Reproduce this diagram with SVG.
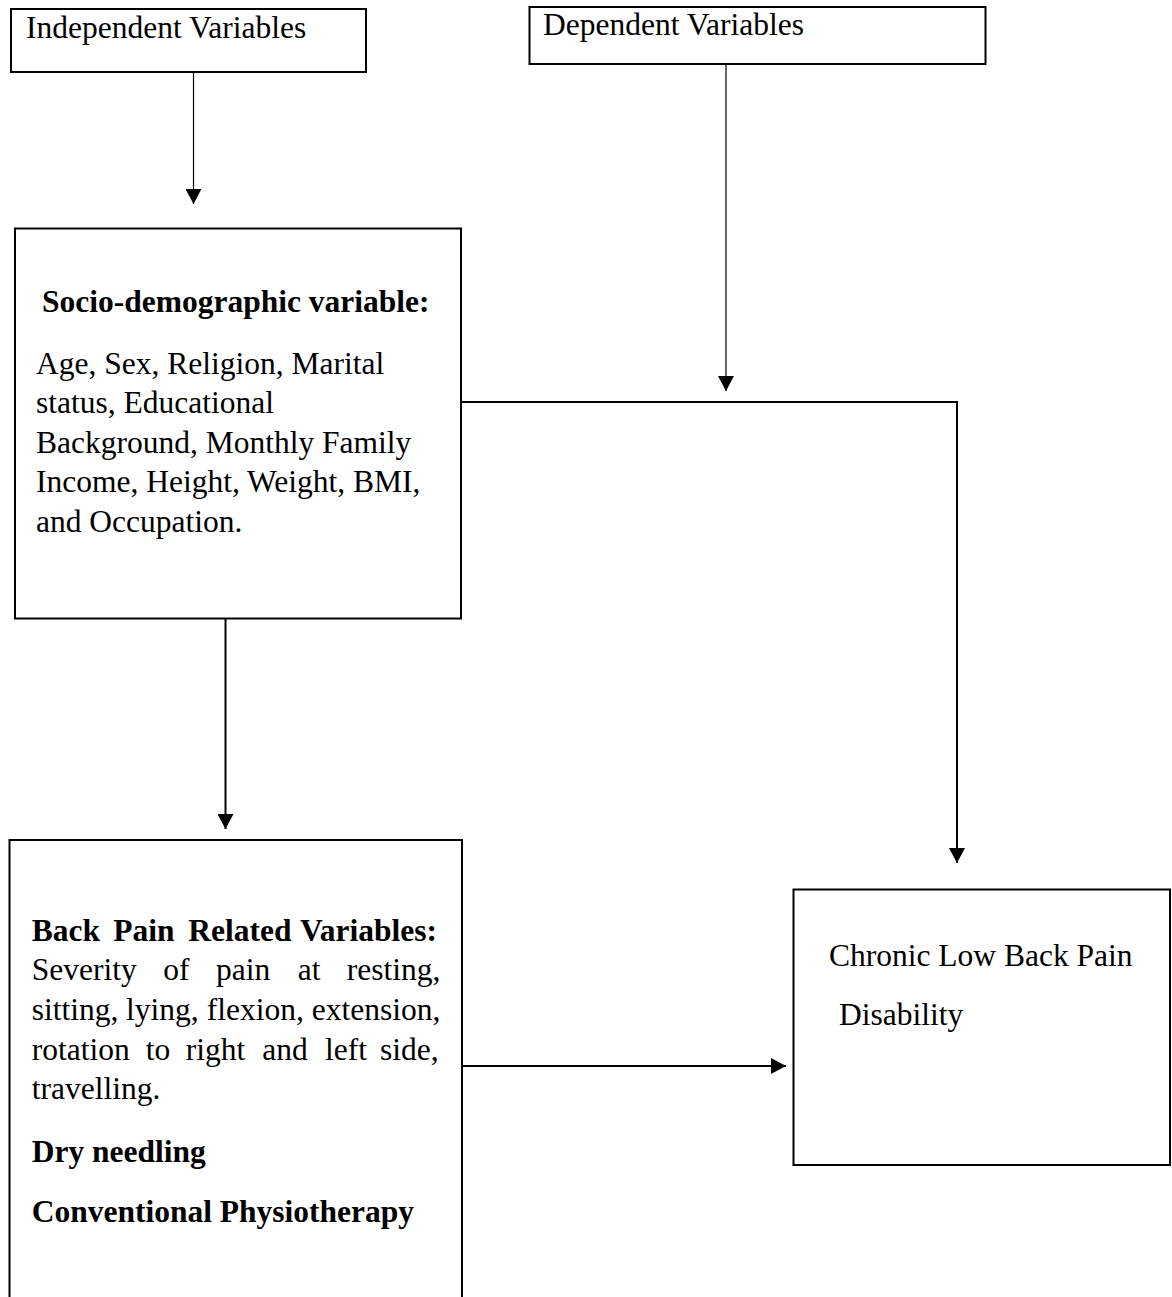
<svg xmlns="http://www.w3.org/2000/svg" width="1172" height="1297" viewBox="0 0 1172 1297">
<style>
.box{fill:#fff;stroke:#000;stroke-width:2}
.t{font-family:"Liberation Serif","Times New Roman",serif;font-size:31.5px;fill:#000}
.b{font-weight:bold}
.c1{fill:none;stroke:#000;stroke-width:1.2}
.c2{fill:none;stroke:#000;stroke-width:2}
</style>
<defs>
<marker id="arr" markerUnits="userSpaceOnUse" markerWidth="16" markerHeight="16" refX="15" refY="8" orient="auto">
<path d="M0,0 L15,8 L0,16 z" fill="#000"/>
</marker>
</defs>
<rect width="1172" height="1297" fill="#fff"/>
<g id="connectors">
<line class="c1" x1="193.5" y1="72" x2="193.5" y2="204" marker-end="url(#arr)"/>
<line class="c1" x1="726" y1="64" x2="726" y2="391" marker-end="url(#arr)"/>
<polyline class="c2" points="461,402 957,402 957,863" marker-end="url(#arr)"/>
<line class="c2" x1="225.5" y1="618" x2="225.5" y2="829" marker-end="url(#arr)"/>
<line class="c2" x1="461" y1="1066" x2="786" y2="1066" marker-end="url(#arr)"/>
</g>
<g id="independent">
<rect class="box" x="11" y="9" width="355" height="63"/>
<text class="t" x="26" y="38">Independent Variables</text>
</g>
<g id="dependent">
<rect class="box" x="529.5" y="7" width="456" height="57"/>
<text class="t" x="543" y="35">Dependent Variables</text>
</g>
<g id="socio">
<rect class="box" x="15" y="228.5" width="446" height="390"/>
<text class="t b" x="42" y="312">Socio-demographic variable:</text>
<text class="t" x="36" y="373.5">Age, Sex, Religion, Marital</text>
<text class="t" x="36" y="413">status, Educational</text>
<text class="t" x="36" y="452.5">Background, Monthly Family</text>
<text class="t" x="36" y="492">Income, Height, Weight, BMI,</text>
<text class="t" x="36" y="532">and Occupation.</text>
</g>
<g id="backpain">
<rect class="box" x="9.5" y="840" width="452.5" height="480"/>
<text class="t b" y="941"><tspan x="31.7">Back</tspan><tspan x="113.3">Pain</tspan><tspan x="188.3">Related</tspan><tspan x="300">Variables:</tspan></text>
<text class="t" y="980"><tspan x="31.7">Severity</tspan><tspan x="163.3">of</tspan><tspan x="216">pain</tspan><tspan x="297.7">at</tspan><tspan x="346.7">resting,</tspan></text>
<text class="t" y="1020"><tspan x="31.7">sitting,</tspan><tspan x="126">lying,</tspan><tspan x="206.7">flexion,</tspan><tspan x="311.7">extension,</tspan></text>
<text class="t" y="1059.5"><tspan x="31.7">rotation</tspan><tspan x="145.7">to</tspan><tspan x="185.7">right</tspan><tspan x="262.3">and</tspan><tspan x="325">left</tspan><tspan x="380">side,</tspan></text>
<text class="t" x="31.7" y="1098.5">travelling.</text>
<text class="t b" x="31.7" y="1162">Dry needling</text>
<text class="t b" x="31.7" y="1222">Conventional Physiotherapy</text>
</g>
<g id="chronic">
<rect class="box" x="793.5" y="889.5" width="376.5" height="275.5"/>
<text class="t" x="829" y="966">Chronic Low Back Pain</text>
<text class="t" x="839" y="1025">Disability</text>
</g>
</svg>
